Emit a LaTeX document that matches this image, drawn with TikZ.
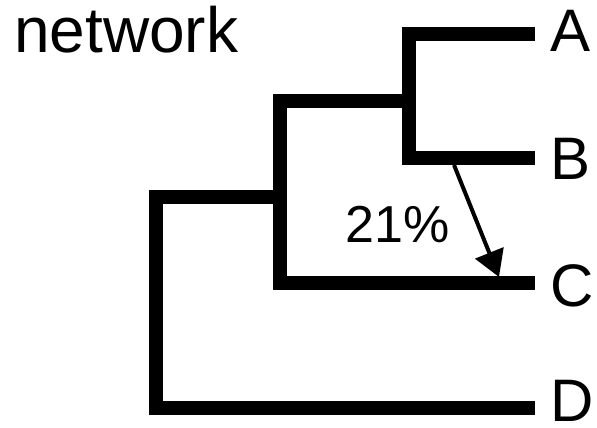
\documentclass[tikz,border=0pt]{standalone}
\usepackage{fontspec}
\setmainfont{Liberation Sans}
\usetikzlibrary{arrows.meta}
\begin{document}
\begin{tikzpicture}[x=1pt,y=-1pt,
  branch/.style={line width=14pt,line cap=butt,line join=miter},
  transfer/.style={line width=4pt,-{Triangle[length=26pt 0 0,width=30pt 0 0]}},
  leaflabel/.style={inner sep=0pt,anchor=base west,font=\fontsize{60}{60}\selectfont},
  title/.style={inner sep=0pt,anchor=base west,font=\fontsize{64}{64}\selectfont},
  pct/.style={inner sep=0pt,anchor=base west,font=\fontsize{52}{52}\selectfont}]
  \useasboundingbox[fill=white] (0,0) rectangle (597,428);

  % leaf tips
  \coordinate (A) at (535,34);
  \coordinate (B) at (535,158);
  \coordinate (C) at (535,283);
  \coordinate (D) at (535,408);
  % internal nodes
  \coordinate (nAB)   at (409,101);
  \coordinate (nABC)  at (280,197);
  \coordinate (root)  at (156,300);

  % tree branches
  \draw[branch] (A) -| (nAB) |- (B);
  \draw[branch] (nAB) -| (nABC) |- (C);
  \draw[branch] (nABC) -| (root) |- (D);

  % horizontal transfer from B onto C
  \coordinate (hs) at (454,165);
  \coordinate (ht) at (499,277);
  \draw[transfer] (hs) -- (ht);
  \node[pct] (p) at (345,242) {21\%};

  % labels
  \node[leaflabel] (lA) at (550,52)  {A};
  \node[leaflabel] (lB) at (550,179) {B};
  \node[leaflabel] (lC) at (550,306) {C};
  \node[leaflabel] (lD) at (550,421) {D};
  \node[title] (t) at (14,53) {network};
\end{tikzpicture}
\end{document}
